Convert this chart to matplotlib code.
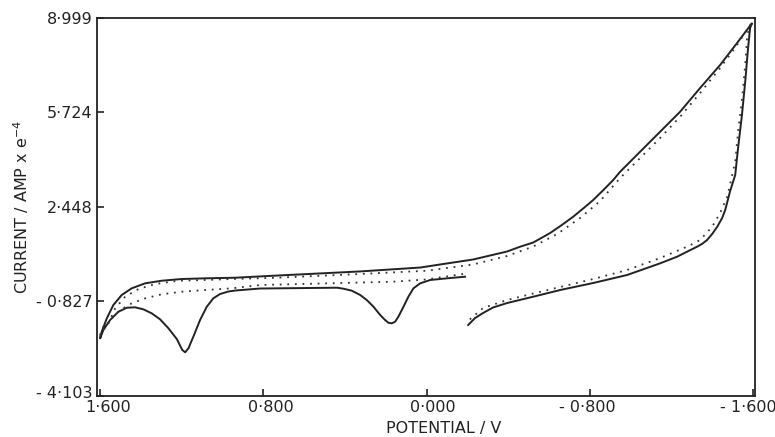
import matplotlib
matplotlib.use('Agg')
import matplotlib.pyplot as plt
import matplotlib.transforms as mtransforms

# solid trace: potential (V) and current (AMP x e-4)
solid_v = [-0.189, -0.100, -0.018, 0.031, 0.064, 0.089, 0.113, 0.138, 0.154, 0.170,
           0.187, 0.203, 0.227, 0.260, 0.293, 0.325, 0.366, 0.407, 0.438, 0.816,
           0.938, 0.971, 1.012, 1.045, 1.077, 1.110, 1.143, 1.167, 1.183, 1.197,
           1.224, 1.265, 1.306, 1.347, 1.388, 1.428, 1.469, 1.510, 1.551, 1.584,
           1.600, 1.592, 1.567, 1.535, 1.494, 1.445, 1.379, 1.298, 1.200, 1.085,
           0.938, 0.767, 0.325, 0.031, -0.067, -0.228, -0.395, -0.459, -0.523, -0.606,
           -0.663, -0.719, -0.769, -0.817, -0.867, -0.915, -0.949, -1.047, -1.145, -1.243,
           -1.341, -1.439, -1.522, -1.595, -1.586, -1.576, -1.562, -1.546, -1.527, -1.513,
           -1.488, -1.464, -1.449, -1.425, -1.400, -1.375, -1.350, -1.326, -1.228, -1.145,
           -0.983, -0.817, -0.655, -0.523, -0.395, -0.326, -0.277, -0.238, -0.204]
solid_i = [0.032, -0.024, -0.082, -0.197, -0.370, -0.661, -1.008, -1.355, -1.528, -1.584,
           -1.563, -1.469, -1.296, -1.008, -0.776, -0.602, -0.453, -0.384, -0.349, -0.377,
           -0.447, -0.481, -0.568, -0.717, -1.008, -1.469, -2.048, -2.450, -2.588, -2.509,
           -2.128, -1.756, -1.445, -1.237, -1.098, -1.029, -1.043, -1.181, -1.469, -1.816,
           -2.104, -1.875, -1.410, -0.949, -0.602, -0.370, -0.197, -0.107, -0.048, -0.024,
           -0.003, 0.060, 0.215, 0.350, 0.456, 0.628, 0.906, 1.072, 1.217, 1.547,
           1.824, 2.112, 2.403, 2.691, 3.037, 3.384, 3.671, 4.365, 5.058, 5.751,
           6.573, 7.370, 8.132, 8.815, 8.652, 7.959, 6.791, 5.637, 4.493, 3.557,
           3.000, 2.344, 2.067, 1.765, 1.512, 1.304, 1.166, 1.072, 0.725, 0.496,
           0.091, -0.186, -0.429, -0.661, -0.880, -1.035, -1.226, -1.400, -1.642]

# dotted trace
dotted_v = [-0.179, -0.003, 0.164, 0.816, 0.954, 1.085, 1.200, 1.298, 1.379, 1.445,
            1.502, 1.543, 1.575, 1.600, 1.580, 1.559, 1.526, 1.477, 1.412, 1.330,
            1.216, 1.085, 0.954, 0.767, 0.325, -0.003, -0.228, -0.395, -0.523, -0.640,
            -0.753, -0.851, -0.949, -1.047, -1.145, -1.243, -1.341, -1.439, -1.522, -1.576,
            -1.586, -1.572, -1.562, -1.547, -1.527, -1.513, -1.474, -1.439, -1.400, -1.341,
            -1.277, -1.145, -0.983, -0.817, -0.655, -0.523, -0.395, -0.277, -0.199]
dotted_i = [0.126, -0.060, -0.141, -0.256, -0.370, -0.429, -0.488, -0.578, -0.717, -0.890,
            -1.123, -1.410, -1.701, -1.989, -1.642, -1.583, -1.064, -0.661, -0.394, -0.221,
            -0.107, -0.082, -0.048, -0.013, 0.126, 0.240, 0.456, 0.750, 1.080, 1.510,
            2.067, 2.656, 3.453, 4.146, 4.840, 5.578, 6.399, 7.266, 8.063, 8.652,
            8.757, 8.410, 7.370, 6.226, 5.058, 4.018, 2.805, 2.240, 1.765, 1.304,
            1.072, 0.680, 0.264, -0.048, -0.325, -0.550, -0.776, -1.053, -1.528]

x_ticks = [1.6, 0.8, 0.0, -0.8, -1.6]
x_ticklabels = ['1·600', '0·800', '0·000', '- 0·800', '- 1·600']
y_ticks = [8.999, 5.724, 2.448, -0.827, -4.103]
y_ticklabels = ['8·999', '5·724', '2·448', '- 0·827', '- 4·103']

ink = '#222222'

fig = plt.figure(figsize=(7.75, 4.37), dpi=100)
ax = fig.add_axes([0.1252, 0.0938, 0.849, 0.865])

ax.plot(solid_v, solid_i, color=ink, lw=1.4, solid_joinstyle='round')
ax.plot(dotted_v, dotted_i, color='#333333', lw=1.3, linestyle=(0, (1, 3.2)))

ax.set_xlim(1.615, -1.61)
ax.set_ylim(-4.103, 8.999)
ax.set_xticks(x_ticks)
ax.set_xticklabels(x_ticklabels)
ax.set_yticks(y_ticks)
ax.set_yticklabels(y_ticklabels)
ax.tick_params(direction='in', length=5, width=1.2, labelsize=11.5, colors=ink, pad=3)

# nudge tick labels the way they sit on the original plot
x_shift = [8, 8, 6, -2, -5]
for lab, dx in zip(ax.get_xticklabels(), x_shift):
    lab.set_transform(lab.get_transform() + mtransforms.ScaledTranslation(dx / 100, 0, fig.dpi_scale_trans))
ylabs = ax.get_yticklabels()
ylabs[-1].set_transform(ylabs[-1].get_transform() + mtransforms.ScaledTranslation(0, 4 / 100, fig.dpi_scale_trans))

for s in ax.spines.values():
    s.set_linewidth(1.3)
    s.set_color(ink)

ax.set_ylabel('CURRENT / AMP x e$^{-4}$', fontsize=11.5, color=ink, labelpad=4)
fig.text(0.573, 0.02, 'POTENTIAL / V', fontsize=11.5, color=ink, ha='center', va='center')

fig.savefig('out.png', dpi=100)
